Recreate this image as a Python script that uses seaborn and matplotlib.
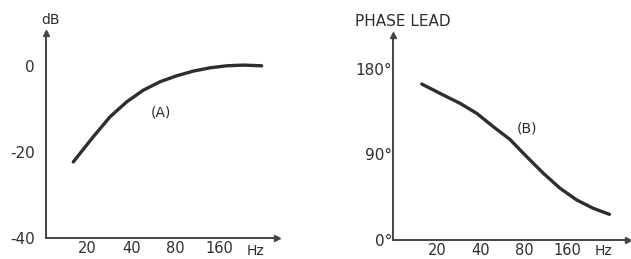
import matplotlib
matplotlib.use("Agg")
import matplotlib.pyplot as plt
import seaborn as sns
import pandas as pd

# ---- data ----
freq_a = [16.0, 22.0, 28.6, 37.3, 48.4, 63.0, 82.0, 106.7, 138.8, 180.6, 234.9, 314.0]
db_a = [-22.3, -16.4, -11.8, -8.3, -5.6, -3.65, -2.26, -1.16, -0.4, 0.07, 0.23, 0.07]

freq_b = [15.6, 22.0, 28.8, 37.6, 49.0, 64.0, 79.2, 109.0, 142.4, 186.0, 242.5, 313.5]
phase_b = [164.2, 152.6, 143.8, 133.2, 119.1, 105.6, 91.0, 69.9, 54.1, 41.7, 32.9, 26.6]

x_ticks = [20, 40, 80, 160]
x_ticklabels = ["20", "40", "80", "160"]
a_yticks = [0, -20, -40]
a_yticklabels = ["0", "-20", "-40"]
b_yticks = [180, 90, 0]
b_yticklabels = ["180°", "90°", "0°"]

sns.set_style("white")
plt.rcParams["font.family"] = ["DejaVu Sans"]

W, H = 631, 259
fig = plt.figure(figsize=(W / 100, H / 100), dpi=100)

ink = "#2e2e2e"
axc = "#444444"

def px_axes(x0, y_bottom, x1, y_top):
    return fig.add_axes([x0 / W, 1 - y_bottom / H, (x1 - x0) / W, (y_bottom - y_top) / H])

axA = px_axes(46, 238, 277, 33)
axB = px_axes(392.7, 239.5, 628, 35)

dfA = pd.DataFrame({"f": freq_a, "v": db_a})
dfB = pd.DataFrame({"f": freq_b, "v": phase_b})

sns.lineplot(data=dfA, x="f", y="v", ax=axA, color=ink, lw=2.4, sort=True)
sns.lineplot(data=dfB, x="f", y="v", ax=axB, color=ink, lw=2.4, sort=True)

axA.set_xlim(10.4, 400)
axA.set_ylim(-40, 7.7)
axB.set_xlim(9.8, 422)
axB.set_ylim(0, 216)

for ax, yt, ytl, ypad in [(axA, a_yticks, a_yticklabels, 8), (axB, b_yticks, b_yticklabels, 0.5)]:
    ax.set_xscale("log", base=2)
    ax.set_xticks(x_ticks)
    ax.set_xticklabels(x_ticklabels)
    ax.minorticks_off()
    ax.set_yticks(yt)
    ax.set_yticklabels(ytl)
    ax.set_xlabel("")
    ax.set_ylabel("")
    for s in ["top", "right"]:
        ax.spines[s].set_visible(False)
    for s in ["left", "bottom"]:
        ax.spines[s].set_color(axc)
        ax.spines[s].set_linewidth(1.4)
    ax.tick_params(axis="x", direction="in", length=3, width=1.2, color=axc,
                   labelsize=10.5, labelcolor=ink, pad=2.5)
    ax.tick_params(axis="y", direction="in", length=3, width=1.2, color=axc,
                   labelsize=11, labelcolor=ink, pad=ypad)
    ax.patch.set_alpha(0)
    ax.plot([1], [0], marker=">", ms=5, color=axc, transform=ax.transAxes, clip_on=False)
    ax.plot([0], [1], marker="^", ms=5, color=axc, transform=ax.transAxes, clip_on=False)

def ftext(x, y, s, **kw):
    fig.text(x / W, 1 - y / H, s, ha="center", va="center", color=ink, **kw)

ftext(50, 20, "dB", fontsize=10)
ftext(403, 21, "PHASE LEAD", fontsize=11)
ftext(161, 112, "(A)", fontsize=10)
ftext(527, 129, "(B)", fontsize=10)
ftext(255, 251, "Hz", fontsize=10)
ftext(603, 251, "Hz", fontsize=10)

fig.savefig("out.png", dpi=100, facecolor="white")
